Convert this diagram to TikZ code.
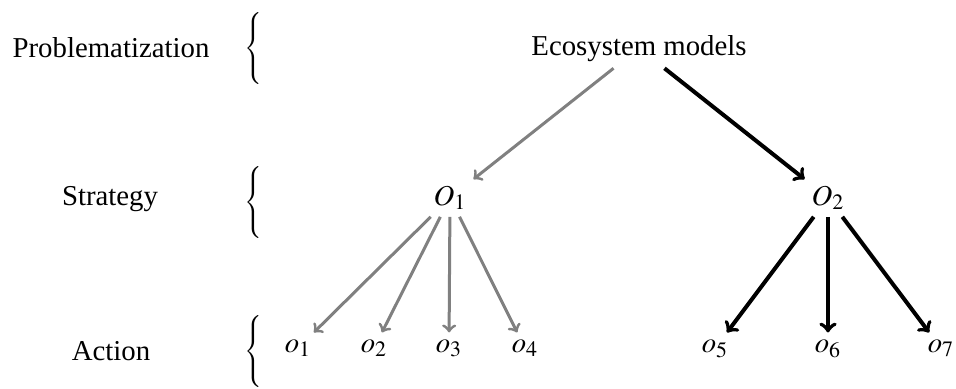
\documentclass[tikz,border=0pt]{standalone}
\usepackage{mathptmx}
\usepackage{fontspec}
\setmainfont{Liberation Serif}
\tikzset{lbl/.style={anchor=base,font=\fontsize{14.4}{17}\selectfont},brc/.style={inner sep=0pt},gr/.style={->,draw=gray,line width=1.5pt},bk/.style={->,line width=2pt}}

\begin{document}
\begin{tikzpicture}[x=0.5pt,y=-0.5pt]
\useasboundingbox(0,0)rectangle(956,388);
\node[lbl](prob)at(111,57){Problematization};\node[lbl](strat)at(110,205){Strategy};\node[lbl](act)at(111,360){Action};
\node[brc](br1)at(255,50){$\left\{\rule[-17pt]{0pt}{34pt}\right.$};\node[brc](br2)at(255,204){$\left\{\rule[-17pt]{0pt}{34pt}\right.$};
\node[brc](br3)at(255,353){$\left\{\rule[-17pt]{0pt}{34pt}\right.$};
\node[lbl](eco)at(639,55){Ecosystem models};
\node[lbl](O1)at(450,205){$O_1$};\node[lbl](O2)at(828,205){$O_2$};
\node[lbl](o1)at(298,352){$o_1$};\node[lbl](o2)at(374,352){$o_2$};\node[lbl](o3)at(449,352){$o_3$};\node[lbl](o4)at(525,352){$o_4$};
\node[lbl](o5)at(715,352){$o_5$};\node[lbl](o6)at(828,352){$o_6$};\node[lbl](o7)at(941,352){$o_7$};
\foreach\a/\b in{eco/O1,O1/o1,O1/o2,O1/o3,O1/o4}\draw[gr](\a)--(\b);
\foreach\a/\b in{eco/O2,O2/o5,O2/o6,O2/o7}\draw[bk](\a)--(\b);
\end{tikzpicture}
\end{document}
